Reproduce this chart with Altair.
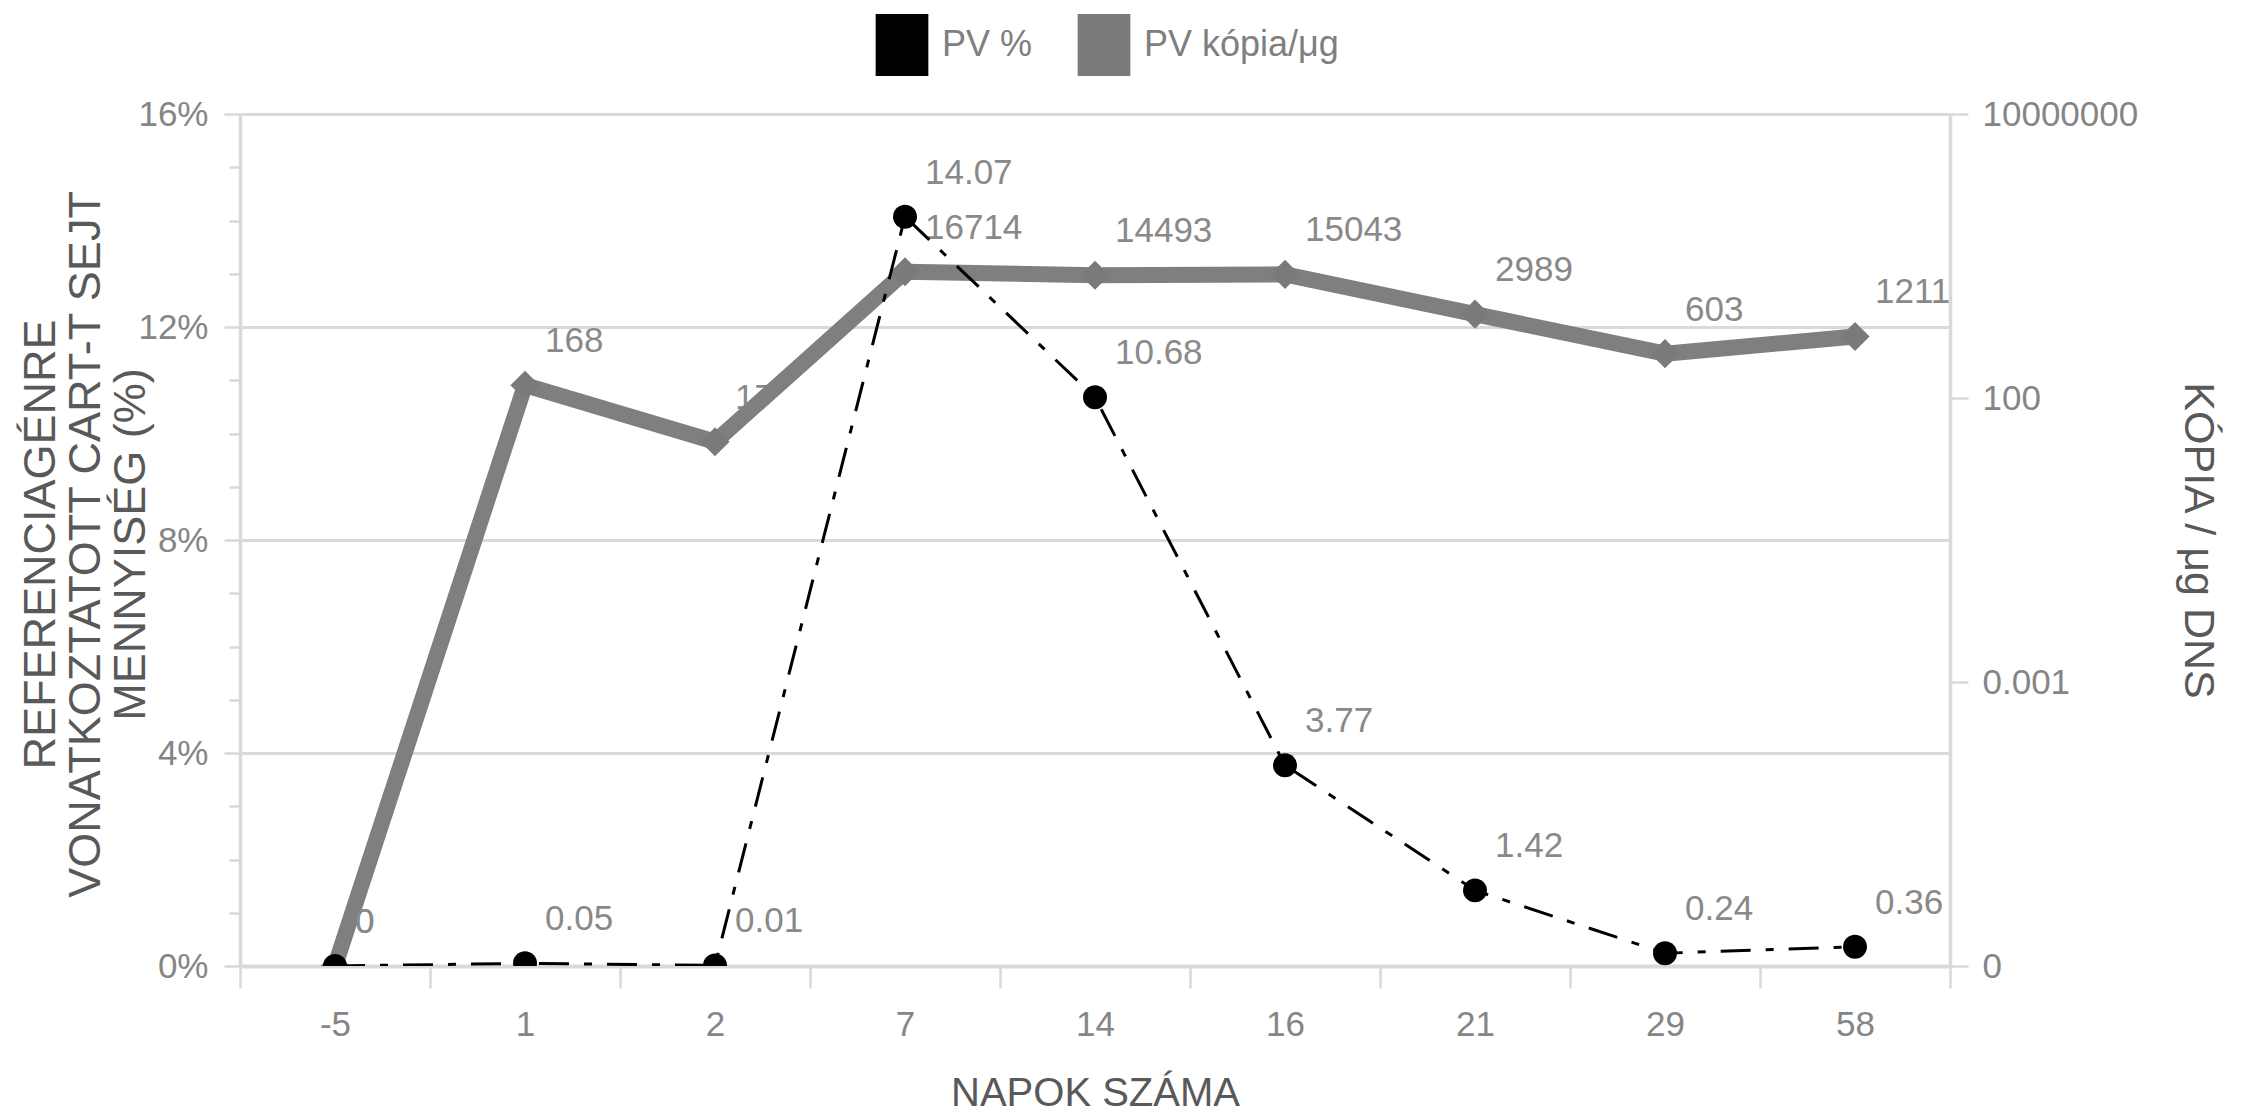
import altair as alt
import pandas as pd

# ---- data ----
days = ["-5", "1", "2", "7", "14", "16", "21", "29", "58"]
pv_pct = [0, 0.05, 0.01, 14.07, 10.68, 3.77, 1.42, 0.24, 0.36]
pv_copies = [0, 168, 17, 16714, 14493, 15043, 2989, 603, 1211]
series_names = ["PV %", "PV kópia/μg"]
left_ticks = list(range(0, 17))
right_ticks = [1e-8, 1e-3, 1e2, 1e7]
LOG_FLOOR = 1e-8  # the "0" at the bottom of the log axis

df = pd.DataFrame({"day": days, "pct": pv_pct, "copies": pv_copies})
df["copies_plot"] = [c if c > 0 else LOG_FLOOR for c in pv_copies]

FONT = "Liberation Sans, Arial, Helvetica, sans-serif"
GRID = "#d9d9d9"
LABEL = "#858585"
TITLE = "#595959"
DLABEL = "#898989"

x_enc = alt.X(
    "day:N", sort=days, bandPosition=0.5,
    scale=alt.Scale(type="band", paddingInner=0, paddingOuter=0),
    axis=alt.Axis(
        title="NAPOK SZÁMA", tickBand="extent", labelAngle=0, grid=False,
        domainColor=GRID, domainWidth=4, tickColor=GRID, tickWidth=2.5, tickSize=22,
        labelPadding=19, labelFontSize=35, labelColor=LABEL, labelFont=FONT,
        titleFontSize=40, titleColor=TITLE, titleFontWeight="normal", titleFont=FONT,
        titleBaseline="alphabetic", titleY=139,
    ),
)

y_pct = alt.Y(
    "pct:Q",
    scale=alt.Scale(domain=[0, 16], nice=False, zero=True),
    axis=alt.Axis(
        orient="left", values=left_ticks,
        labelExpr="datum.value % 4 === 0 ? datum.value + '%' : ''",
        tickSize={"condition": {"test": "datum.value % 4 === 0", "value": 16}, "value": 11},
        gridOpacity={"condition": {"test": "datum.value % 4 === 0", "value": 1}, "value": 0},
        grid=True, gridColor=GRID, gridWidth=3,
        domainColor=GRID, domainWidth=3.5, tickColor=GRID, tickWidth=2.5,
        labelPadding=16, labelFontSize=35, labelColor=LABEL, labelFont=FONT,
        title=["REFERENCIAGÉNRE", "VONATKOZTATOTT CART-T SEJT", "MENNYISÉG (%)"],
        titleFontSize=45, titleLineHeight=45, titleColor=TITLE, titleFontWeight="normal",
        titleFont=FONT, titleAngle=270, titleBaseline="middle", titleAlign="center",
        titleX=-200, titleY=430,
    ),
)

y_cop = alt.Y(
    "copies_plot:Q",
    scale=alt.Scale(type="log", domain=[1e-8, 1e7], nice=False),
    axis=alt.Axis(
        orient="right", values=right_ticks,
        labelExpr="datum.value < 1e-6 ? '0' : format(datum.value, '~f')",
        labelLimit=400, grid=False,
        domainColor=GRID, domainWidth=3.5, tickColor=GRID, tickWidth=2.5, tickSize=18,
        labelPadding=14, labelFontSize=35, labelColor=LABEL, labelFont=FONT,
        title="KÓPIA / μg DNS", titleFontSize=43, titleColor=TITLE,
        titleFontWeight="normal", titleFont=FONT, titleAngle=90,
        titleBaseline="middle", titleAlign="center", titleX=247, titleY=426,
    ),
)

color_scale = alt.Scale(domain=series_names, range=["#000000", "#7a7a7a"])
legend = alt.Legend(
    title=None, orient="none", legendX=631, legendY=-100, direction="horizontal",
    symbolType="M-0.85,-1H0.85V1H-0.85Z", symbolSize=3844, symbolStrokeWidth=0,
    labelFontSize=36, labelColor="#7f7f7f", labelFont=FONT, labelOffset=9,
    labelLimit=400, columnPadding=40,
)

base = alt.Chart(df)

# ---- PV kópia/μg (right, log axis) ----
cop_labels = base.mark_text(
    align="left", baseline="middle", dx=20, dy=-44, fontSize=35, color=DLABEL, font=FONT
).encode(x=x_enc, y=y_cop, text=alt.Text("copies:Q", format="d"))
cop_line = base.mark_line(
    color="#7f7f7f", strokeWidth=16, strokeJoin="round", clip=True
).encode(x=x_enc, y=y_cop)
cop_pts = base.mark_point(
    shape="diamond", filled=True, size=850, opacity=1, clip=True
).transform_calculate(series="'PV kópia/μg'").encode(
    x=x_enc, y=y_cop, color=alt.Color("series:N", scale=color_scale, legend=legend)
)
layer_cop = alt.layer(cop_labels, cop_line, cop_pts)

# ---- PV % (left axis) ----
pct_labels = base.mark_text(
    align="left", baseline="middle", dx=20, dy=-44, fontSize=35, color=DLABEL, font=FONT
).encode(x=x_enc, y=y_pct, text=alt.Text("pct:Q", format="~g"))
pct_line = base.mark_line(
    color="#000000", strokeWidth=3, strokeDash=[30, 15, 8, 15], clip=True
).encode(x=x_enc, y=y_pct)
pct_pts = base.mark_point(
    shape="circle", filled=True, size=573, opacity=1, clip=True
).transform_calculate(series="'PV %'").encode(
    x=x_enc, y=y_pct, color=alt.Color("series:N", scale=color_scale, legend=legend)
)
layer_pct = alt.layer(pct_labels, pct_line, pct_pts)

chart = (
    alt.layer(layer_cop, layer_pct)
    .resolve_scale(y="independent")
    .properties(
        width=1710, height=852,
        padding={"left": 240, "top": 114, "right": 291, "bottom": 149},
        autosize=alt.AutoSizeParams(type="none"),
        background="white",
    )
    .configure_view(stroke=None)
    .configure(font=FONT)
)

chart.save("out.html", embed_options={"renderer": "svg", "actions": False})
